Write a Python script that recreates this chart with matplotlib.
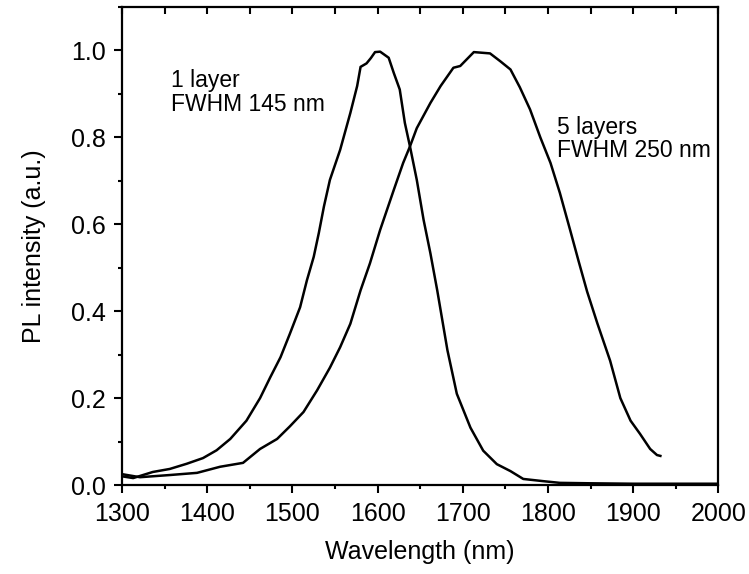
import matplotlib
matplotlib.use("Agg")
import matplotlib.pyplot as plt
from matplotlib.ticker import MultipleLocator, FormatStrFormatter

plt.rcParams['font.family'] = ['Liberation Sans', 'DejaVu Sans']

# 1 layer spectrum
wl_1 = [1300, 1313, 1336, 1356, 1376, 1395, 1411, 1427, 1446, 1462, 1474, 1486,
        1497, 1509, 1517, 1525, 1531, 1537, 1544, 1556, 1568, 1576, 1580, 1587,
        1592, 1597, 1603, 1613, 1619, 1626, 1632, 1638, 1646, 1654, 1662, 1670,
        1682, 1693, 1709, 1724, 1740, 1756, 1771, 1794, 1814, 1850, 1900, 1950, 2000]
pl_1 = [0.020, 0.016, 0.030, 0.037, 0.049, 0.062, 0.080, 0.106, 0.148, 0.200, 0.248, 0.294,
        0.348, 0.409, 0.471, 0.525, 0.580, 0.641, 0.702, 0.771, 0.856, 0.918, 0.962, 0.970,
        0.982, 0.996, 0.997, 0.983, 0.948, 0.910, 0.833, 0.779, 0.702, 0.610, 0.533, 0.448,
        0.310, 0.210, 0.132, 0.079, 0.048, 0.032, 0.014, 0.009, 0.005, 0.004, 0.003, 0.003, 0.003]

# 5 layers spectrum
wl_5 = [1300, 1321, 1356, 1388, 1415, 1442, 1462, 1482, 1497, 1513, 1529, 1544,
        1556, 1568, 1580, 1591, 1603, 1619, 1630, 1638, 1646, 1662, 1674, 1689,
        1697, 1713, 1732, 1744, 1756, 1767, 1779, 1791, 1803, 1814, 1826, 1836,
        1846, 1858, 1873, 1885, 1897, 1908, 1920, 1928, 1932]
pl_5 = [0.025, 0.018, 0.023, 0.028, 0.042, 0.051, 0.083, 0.106, 0.135, 0.168, 0.218, 0.270,
        0.317, 0.371, 0.448, 0.510, 0.587, 0.679, 0.741, 0.779, 0.821, 0.879, 0.918, 0.960,
        0.964, 0.996, 0.993, 0.975, 0.956, 0.915, 0.864, 0.800, 0.741, 0.672, 0.587, 0.515,
        0.445, 0.372, 0.286, 0.200, 0.148, 0.118, 0.083, 0.069, 0.067]

fig = plt.figure(figsize=(7.49, 5.74), dpi=100)
ax = fig.add_axes([0.163, 0.155, 0.796, 0.833])

ax.plot(wl_1, pl_1, color='black', lw=1.8)
ax.plot(wl_5, pl_5, color='black', lw=1.8)

ax.set_xlim(1300, 2000)
ax.set_ylim(0, 1.1)
ax.xaxis.set_major_locator(MultipleLocator(100))
ax.xaxis.set_minor_locator(MultipleLocator(50))
ax.yaxis.set_major_locator(MultipleLocator(0.2))
ax.yaxis.set_minor_locator(MultipleLocator(0.1))
ax.yaxis.set_major_formatter(FormatStrFormatter('%.1f'))

for s in ax.spines.values():
    s.set_linewidth(1.6)

ax.tick_params(axis='both', which='major', length=5.5, width=1.5, labelsize=18, pad=6.5)
ax.tick_params(axis='both', which='minor', length=3, width=1.5)

# top ticks point inward
top = ax.twiny()
top.set_xlim(ax.get_xlim())
top.xaxis.set_major_locator(MultipleLocator(50))
top.tick_params(axis='x', direction='in', length=5, width=1.5, labeltop=False)
for s in top.spines.values():
    s.set_visible(False)

ax.set_xlabel('Wavelength (nm)', fontsize=18, labelpad=10)
ax.set_ylabel('PL intensity (a.u.)', fontsize=18, labelpad=18)

ax.text(1357, 0.958, '1 layer\nFWHM 145 nm', fontsize=16.5, va='top', ha='left',
        linespacing=1.05)
ax.text(1811, 0.850, '5 layers\nFWHM 250 nm', fontsize=16.5, va='top', ha='left',
        linespacing=1.05)

fig.savefig('out.png', dpi=100)
